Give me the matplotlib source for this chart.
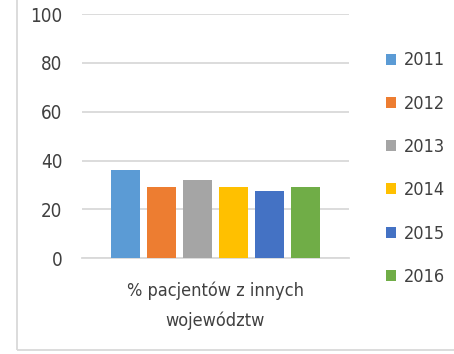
import matplotlib.pyplot as plt
from matplotlib import font_manager as fm
from matplotlib.patches import Rectangle

# data
category = "% pacjentów z innych\nwojewództw"
years = ["2011", "2012", "2013", "2014", "2015", "2016"]
values = [36, 29, 32, 29, 27.5, 29]
colors = ["#5b9bd5", "#ed7d31", "#a5a5a5", "#ffc000", "#4472c4", "#70ad47"]

# narrow font, close to the Calibri look of the original
installed = {f.name for f in fm.fontManager.ttflist}
if 'Liberation Sans Narrow' in installed:
    plt.rcParams['font.family'] = ['Liberation Sans Narrow', 'DejaVu Sans']
    fsize = 15
else:
    plt.rcParams['font.family'] = ['DejaVu Sans']
    plt.rcParams['font.stretch'] = 'condensed'
    fsize = 13
text_color = "#404040"

fig = plt.figure(figsize=(4.54, 3.54), dpi=100)
ax = fig.add_axes([0.1806, 0.2703, 0.588, 0.690])

# one category, six series side by side
for i, (year, val) in enumerate(zip(years, values)):
    ax.bar(i, val, width=0.79, color=colors[i], label=year, zorder=3)

ax.set_xlim(-1.21, 6.21)
ax.set_ylim(0, 100)
ax.set_yticks(range(0, 101, 20))
ax.set_xticks([2.5])
ax.set_xticklabels([category], fontsize=fsize, color=text_color, linespacing=1.75)
ax.tick_params(axis='both', length=0, colors=text_color, labelsize=fsize)
ax.tick_params(axis='y', pad=14, labelsize=fsize + 0.5)
ax.tick_params(axis='x', pad=17)

ax.grid(axis='y', color="#d9d9d9", linewidth=1.3, zorder=0)
for side in ['top', 'right', 'left']:
    ax.spines[side].set_visible(False)
ax.spines['bottom'].set_color("#d9d9d9")
ax.spines['bottom'].set_linewidth(1.3)

leg = fig.legend(loc='upper left', bbox_to_anchor=(0.835, 0.875), frameon=False,
                 fontsize=fsize, labelspacing=1.4 * 13 / fsize, handlelength=0.55,
                 handleheight=0.55, handletextpad=0.4, borderaxespad=0)
for t in leg.get_texts():
    t.set_color(text_color)

# chart area border (partially cropped in the reference)
fig.patches.append(Rectangle((17 / 454, 4 / 354), 1.0, 1.0, transform=fig.transFigure,
                             fill=False, edgecolor="#d9d9d9", linewidth=1.3))

fig.savefig("out.png", dpi=100)
